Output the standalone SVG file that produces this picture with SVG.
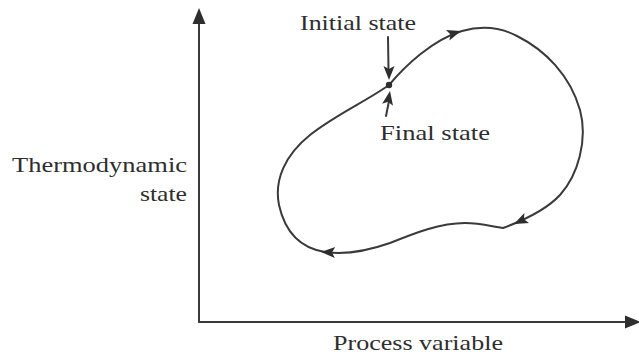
<svg xmlns="http://www.w3.org/2000/svg" width="639" height="360" viewBox="0 0 639 360">
<style>
  .ln{fill:none;stroke:#3a3a3a;stroke-width:2;stroke-linejoin:round;stroke-linecap:round}
  .ah{fill:#2e2e2e;stroke:none}
  .lbl{font-family:"Liberation Serif","Times New Roman",serif;font-size:21px;fill:#2e2e2e}
</style>
<defs>
  <path id="head" d="M0,0 L-14,-5.5 L-11,0 L-14,5.5 Z"/>
  <path id="axhead" d="M0,0 L-16,-6.5 L-16,6.5 Z"/>
</defs>
<rect width="639" height="360" fill="#ffffff"/>

<g id="axes">
  <line class="ln" x1="199" y1="322" x2="199" y2="20"/>
  <line class="ln" x1="199" y1="322" x2="630" y2="322"/>
  <use href="#axhead" class="ah" transform="translate(199,8) rotate(-90)"/>
  <use href="#axhead" class="ah" transform="translate(641,322)"/>
</g>

<g id="cycle">
  <path class="ln" d="M389,85 C405,66 432,40 462,31 C480,26 500,27 517,36 C545,50 570,75 580,110 C588,140 578,175 560,195 C548,208 530,218 503,228 C490,226 480,223 465,223 C440,223 415,233 390,243 C370,250 345,255 325,252 C300,248 285,232 279,205 C274,180 285,155 310,135 C335,115 365,102 389,85 Z"/>
  <use href="#head" class="ah" transform="translate(461,31) rotate(-18)"/>
  <use href="#head" class="ah" transform="translate(514,224) rotate(155)"/>
  <use href="#head" class="ah" transform="translate(321,252) rotate(182)"/>
  <circle cx="389" cy="85" r="3.2" fill="#2e2e2e"/>
</g>

<g id="initial-state">
  <line class="ln" x1="388" y1="37" x2="388.5" y2="70"/>
  <use href="#head" class="ah" transform="translate(389,80) rotate(90)"/>
  <text class="lbl" x="300" y="30" textLength="116" lengthAdjust="spacingAndGlyphs">Initial state</text>
</g>

<g id="final-state">
  <line class="ln" x1="386" y1="116" x2="389" y2="101"/>
  <use href="#head" class="ah" transform="translate(390,91) rotate(-80)"/>
  <text class="lbl" x="380" y="140" textLength="110" lengthAdjust="spacingAndGlyphs">Final state</text>
</g>

<g id="y-label">
  <text class="lbl" x="187" y="172" text-anchor="end" textLength="175" lengthAdjust="spacingAndGlyphs">Thermodynamic</text>
  <text class="lbl" x="187" y="201" text-anchor="end" textLength="47" lengthAdjust="spacingAndGlyphs">state</text>
</g>

<g id="x-label">
  <text class="lbl" x="333" y="350" textLength="170" lengthAdjust="spacingAndGlyphs">Process variable</text>
</g>
</svg>
